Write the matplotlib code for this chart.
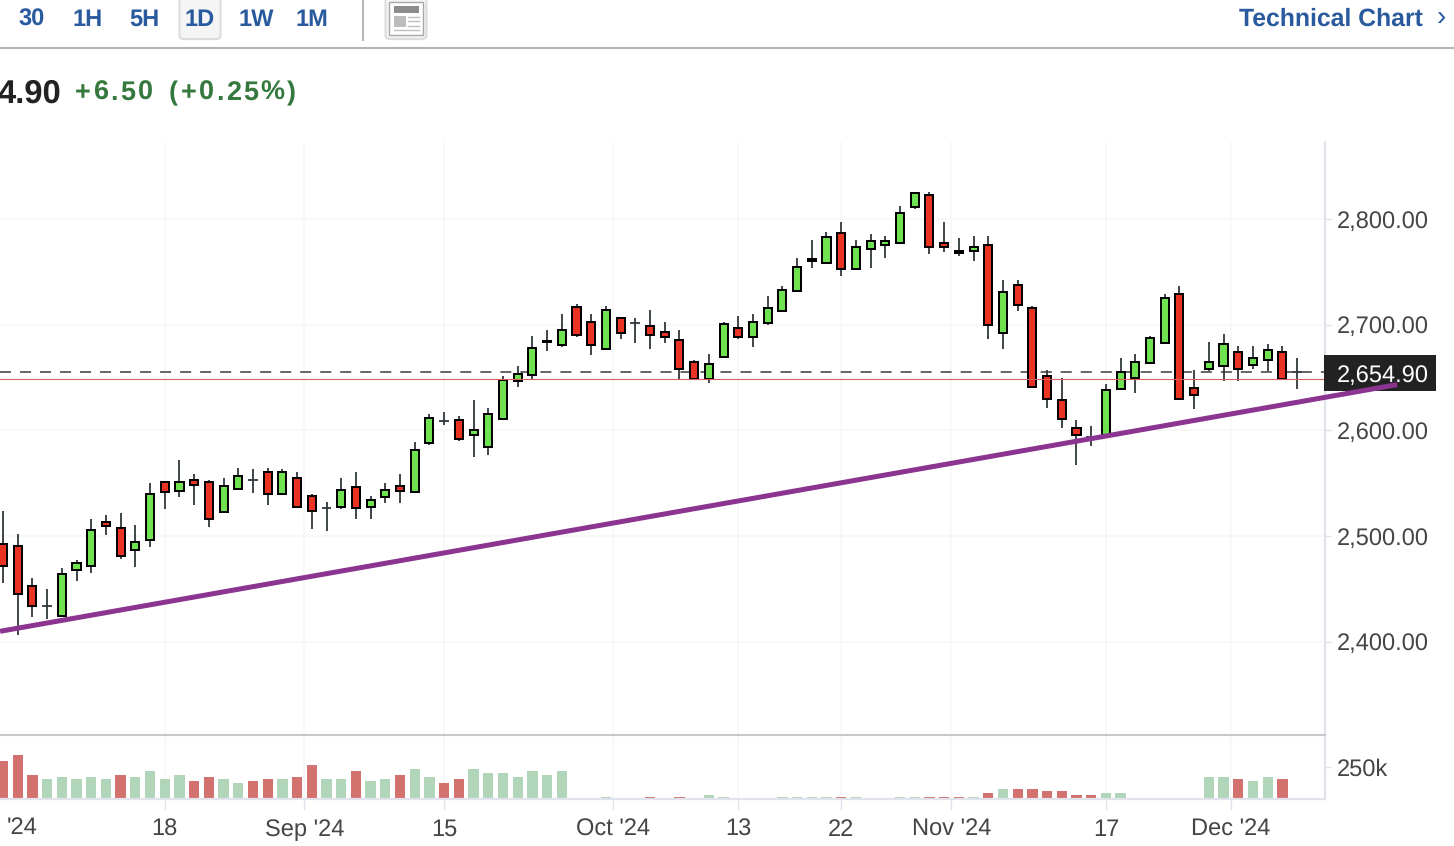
import matplotlib
matplotlib.use("Agg")
import matplotlib.pyplot as plt
from matplotlib.patches import Rectangle, FancyBboxPatch
import numpy as np

opens = [2492,2490.4,2452.6,2433.7,2424.3,2467.5,2471.2,2513.1,2507.1,2486.4,
2495.8,2550.9,2542.8,2552.8,2550.9,2522.3,2544.6,2552.8,2560.3,2539.3,
2554.7,2537.7,2526.3,2527.6,2546.8,2527.6,2537.1,2547.1,2541.2,2588.1,
2609.2,2609.5,2595.7,2584.3,2610.8,2646.7,2652.3,2683.3,2680.7,2717.1,
2702,2676.9,2705.8,2701.8,2698.3,2692.6,2685,2664.2,2648.6,2669.3,
2696.4,2688.2,2701.5,2712.8,2731.7,2760.3,2758.1,2787.1,2752.5,2771.4,
2775.2,2777,2811.1,2823,2777.6,2767.9,2769.5,2775.7,2692,2737.9,
2715.3,2651,2628.3,2601.9,2594.1,2596,2639.4,2649.1,2663.7,2682.6,
2728.5,2639.7,2658,2660.5,2673.7,2661.8,2666.1,2673.7,2654.9]
closes = [2471.5,2444.8,2433.7,2433.7,2463.7,2474.7,2505.5,2509,2480.7,2494.2,
2539.3,2541.2,2550.9,2548.4,2516.3,2547.1,2556.5,2552.8,2539.3,2560.3,
2527.6,2524.1,2526.3,2543.3,2526,2533.9,2543.3,2542.8,2581.1,2611.3,
2609.2,2591.9,2600,2615.1,2647.6,2652.9,2677.5,2684.3,2694.5,2690.1,
2680.7,2713.4,2692,2701.8,2690.1,2688.2,2658,2648.6,2662.4,2700.5,
2688.2,2702,2715.3,2732.3,2754.9,2762.2,2783.3,2752.5,2773.8,2779.5,
2779.5,2806,2824.8,2773.3,2773.3,2769.8,2773.8,2699.6,2730.4,2718.5,
2641,2629.7,2610.8,2595.7,2594.1,2637.8,2654.8,2664.2,2686.9,2724.7,
2629.7,2633.4,2664.2,2681.3,2658,2668,2675.6,2648.8,2654.9]
highs = [2523.5,2502.1,2460.6,2449.5,2470,2477.2,2515.6,2519.4,2521.3,2510,
2549.7,2550.9,2572.3,2559.1,2552.8,2555.3,2564.5,2562.9,2564.5,2562.9,
2560.7,2539.9,2532.6,2555.3,2560.7,2538,2549.7,2559.1,2589,2615.5,
2617.4,2613.9,2629,2621.2,2651.4,2661.1,2689.2,2694.9,2710.3,2719.4,
2710.3,2717.8,2706.2,2706.2,2714,2702.4,2694.9,2666.5,2672.2,2702.4,
2708.1,2710.3,2727.3,2736.7,2762.9,2780.2,2787.4,2796.9,2779.9,2785.5,
2783.7,2812,2824.8,2825.2,2796.9,2781.8,2783.7,2783.7,2742.4,2742.4,
2717.5,2657.4,2649.5,2610.1,2604.4,2643.8,2668.4,2672.2,2688.8,2728.9,
2736.7,2657.4,2683.5,2691.4,2679.7,2679.7,2681.6,2679.7,2668.4]
lows = [2455.8,2406.3,2423.3,2421.2,2423.1,2457.4,2465.3,2500.8,2478.5,2470.6,
2489.5,2525.4,2536.7,2529.2,2508.4,2522.3,2544.6,2540.5,2529.2,2539.3,
2527.6,2506.5,2504.6,2525.8,2515.9,2515.9,2531,2531,2541.2,2585.8,
2604.7,2589.6,2574.5,2576.4,2610.8,2640.6,2648.6,2675,2678.4,2688.2,
2670.9,2676.9,2686,2682.2,2676.5,2682.2,2648.6,2648.6,2644.4,2669.3,
2686,2678.4,2699.2,2712.8,2731.7,2754,2758.1,2746.4,2752.5,2754,
2763.4,2777,2809.2,2767.2,2769.1,2765.3,2759.7,2686,2676.5,2712.4,
2641,2621.5,2602.6,2566.9,2585.6,2596,2639.4,2635,2663.7,2682.6,
2629.7,2619.8,2656.4,2646.3,2646.3,2658,2655.7,2648.8,2638.7]
volumes = [296,344,185,153,169,153,169,153,185,169,217,153,185,138,169,153,122,138,153,153,
169,265,153,153,217,138,153,185,233,169,122,153,233,201,201,169,217,185,217,
0,0,8,0,0,8,0,8,0,26,8,0,0,0,8,8,8,8,8,8,0,0,8,8,8,8,8,8,
42,74,74,74,58,58,26,26,42,42,0,0,0,0,0,169,169,153,138,169,153,0]
vol_side = ("rrrgggggrggggrrggrrgrrggrggrggrrggggggg"
            "ggggg" "rgr" "ggg" "ggg" "gggg" "rg" "gggg" "rrr" "g"
            "rg" "rrrrrr" "gg" "ggggggg" "rggrg")
last_price = 2654.9
prev_close = 2648.4
trend_idx = [-0.2, 94.8]
trend_price = [2409.8, 2643.2]
y_ticks = [2400, 2500, 2600, 2700, 2800]
y_labels = ["2,400.00", "2,500.00", "2,600.00", "2,700.00", "2,800.00"]
vol_ticks = [250]
vol_labels = ["250k"]
x_ticks = [11, 20.5, 30, 41.5, 50, 57, 64.5, 75, 83.5]
x_labels = ["18", "Sep '24", "15", "Oct '24", "13", "22", "Nov '24", "17", "Dec '24"]
tabs = ["30", "1H", "5H", "1D", "1W", "1M"]

W, H = 1454, 846
BLUE = "#2a5a9e"; GREY = "#454545"; AX = "#e0e3eb"; GRID = "#f6f6f7"; CHG = "#35793f"
plt.rcParams["font.family"] = ["Liberation Sans", "DejaVu Sans"]
plt.rcParams["text.hinting"] = "no_hinting"
fig = plt.figure(figsize=(W/100, H/100), dpi=100, facecolor="white")
px = 0.72  # points per pixel

def box(l, t, r, b):
    return [l/W, 1-b/H, (r-l)/W, (b-t)/H]

# overlay in pixel space for page furniture
ov = fig.add_axes([0, 0, 1, 1], zorder=0)
ov.set_xlim(0, W); ov.set_ylim(H, 0); ov.axis("off")

for cx, t in zip([32, 88, 144, 200, 256, 312], tabs):
    ov.text(cx, 19.5, t, ha="center", va="center", color=BLUE, fontsize=17, fontweight="bold", zorder=5)
ov.add_patch(FancyBboxPatch((179.5, -6), 41, 45, boxstyle="round,pad=0,rounding_size=4", fc="#f5f5f5", ec="#dcdcdc", lw=1.5, zorder=2))
ov.plot([363, 363], [0, 40], color="#b4b4b4", lw=1.4)
ov.add_patch(FancyBboxPatch((385.5, -6), 41, 45, boxstyle="round,pad=0,rounding_size=4", fc="#f5f5f5", ec="#dcdcdc", lw=1.5, zorder=2))
ov.add_patch(Rectangle((388.5, 2), 34, 33, fc="white", ec="#a8a8a8", lw=1, zorder=3))
ov.add_patch(Rectangle((394, 6), 25, 7, fc="#8c8c8c", ec="none", zorder=4))
ov.add_patch(Rectangle((394, 16), 12, 11, fc="#bdbdbd", ec="none", zorder=4))
for yy, x0 in [(17.5, 408), (21.5, 408), (26, 408), (30.5, 394)]:
    ov.plot([x0, 419], [yy, yy], color="#bdbdbd", lw=1, zorder=4)
ov.plot([0, W], [48.5, 48.5], color="#b4b4b4", lw=1.5)
ov.text(1423, 19.5, "Technical Chart", ha="right", va="center", color=BLUE, fontsize=17.8, fontweight="bold")
ov.text(1441, 18, "›", ha="center", va="center", color=BLUE, fontsize=20)
ov.text(-2, 94, "4.90", ha="left", va="center", color="#222222", fontsize=23.6, fontweight="bold")

# letter-spaced change readout (Arial advance widths, em)
ADV = {"+": .584, ".": .278, "(": .333, ")": .333, "%": .889}
def spaced(x0, y0, s, size_px=27.0, gap=2.4):
    cur = x0
    for ch in s:
        ov.text(cur, y0, ch, ha="left", va="center", color=CHG, fontsize=size_px*px, fontweight="bold")
        cur += ADV.get(ch, .556)*size_px + gap
spaced(75, 93, "+6.50")
spaced(169, 93, "(+0.25%)")

# main price pane
ax = fig.add_axes(box(0, 142, 1325, 735), zorder=1)
ax.patch.set_alpha(0)
x = np.arange(len(opens))
ax.set_xlim(-0.204, 89.9)
ax.set_ylim(2311.7, 2872.75)
for s in ["top", "left", "bottom"]:
    ax.spines[s].set_visible(False)
ax.spines["right"].set_color(AX); ax.spines["right"].set_linewidth(1.6)
ax.yaxis.tick_right()
ax.set_yticks(y_ticks, y_labels)
ax.set_xticks(x_ticks, [""]*len(x_ticks))
ax.tick_params(axis="y", length=6*px, width=1.4*px, color=AX, labelcolor=GREY, labelsize=17, pad=5.5*px)
ax.tick_params(axis="x", length=0)
ax.grid(True, color=GRID, lw=1.5*px)
ax.set_axisbelow(True)

ax.axhline(last_price, color="#3b3b3b", lw=1.1, linestyle=(0, (7.2, 5.9)), zorder=1.5)

o = np.array(opens); c = np.array(closes); hi = np.array(highs); lo = np.array(lows)
ax.vlines(x, lo, hi, color="#30373b", lw=1.8*px, zorder=2)
doji = o == c
ax.hlines(o[doji], x[doji]-0.33, x[doji]+0.33, color="#30373b", lw=1.8*px, zorder=2)
up = c > o; dn = c < o
ax.bar(x[up], (c-o)[up], bottom=o[up], width=0.55, fc="#6fe24f", ec="black", lw=2*px, zorder=3)
ax.bar(x[dn], (c-o)[dn], bottom=o[dn], width=0.55, fc="#ea3323", ec="black", lw=2*px, zorder=3)
ax.axhline(prev_close, color="#d9605c", lw=1.1*px, zorder=4)

# last-price flag (sits under the trend line)
flag = fig.add_axes([0, 0, 1, 1], zorder=1.5)
flag.set_xlim(0, W); flag.set_ylim(H, 0); flag.axis("off")
flag.add_patch(Rectangle((1324, 355), 112, 36, fc="#222222", ec="none"))
flag.text(1383, 375.5, "2,654.90", ha="center", va="center", color="white", fontsize=17)
tr = fig.add_axes(box(0, 142, 1325, 735), zorder=2)
tr.set_xlim(ax.get_xlim()); tr.set_ylim(ax.get_ylim()); tr.axis("off")
tr.plot(trend_idx, trend_price, color="#8b3590", lw=5*px, solid_capstyle="butt", clip_on=False)

# volume pane
av = fig.add_axes(box(0, 735, 1325, 798.5), zorder=1)
av.patch.set_alpha(0)
av.set_xlim(ax.get_xlim()); av.set_ylim(0, 504)
vol = np.array(volumes)
vcol = ["#b0d5b9" if s == "g" else "#d2716d" for s in vol_side]
av.bar(x, vol, width=0.7, color=vcol, zorder=2)
av.spines["left"].set_visible(False)
av.spines["top"].set_color("#c8c8c8"); av.spines["top"].set_linewidth(1.5)
av.spines["right"].set_color(AX); av.spines["right"].set_linewidth(1.6)
av.spines["bottom"].set_color(AX); av.spines["bottom"].set_linewidth(1.6)
av.yaxis.tick_right()
av.set_yticks(vol_ticks, vol_labels)
av.set_xticks(x_ticks, x_labels)
av.tick_params(axis="y", length=6*px, width=1.4*px, color=AX, labelcolor=GREY, labelsize=17, pad=5.5*px)
av.tick_params(axis="x", length=11*px, width=1.4*px, color=AX, labelcolor=GREY, labelsize=17, pad=9*px)
av.grid(True, axis="x", color=GRID, lw=1.5*px)
av.set_axisbelow(True)
ov.text(7, 828, "'24", ha="left", va="center", color=GREY, fontsize=17)

fig.savefig("out.png", dpi=100, facecolor="white")
